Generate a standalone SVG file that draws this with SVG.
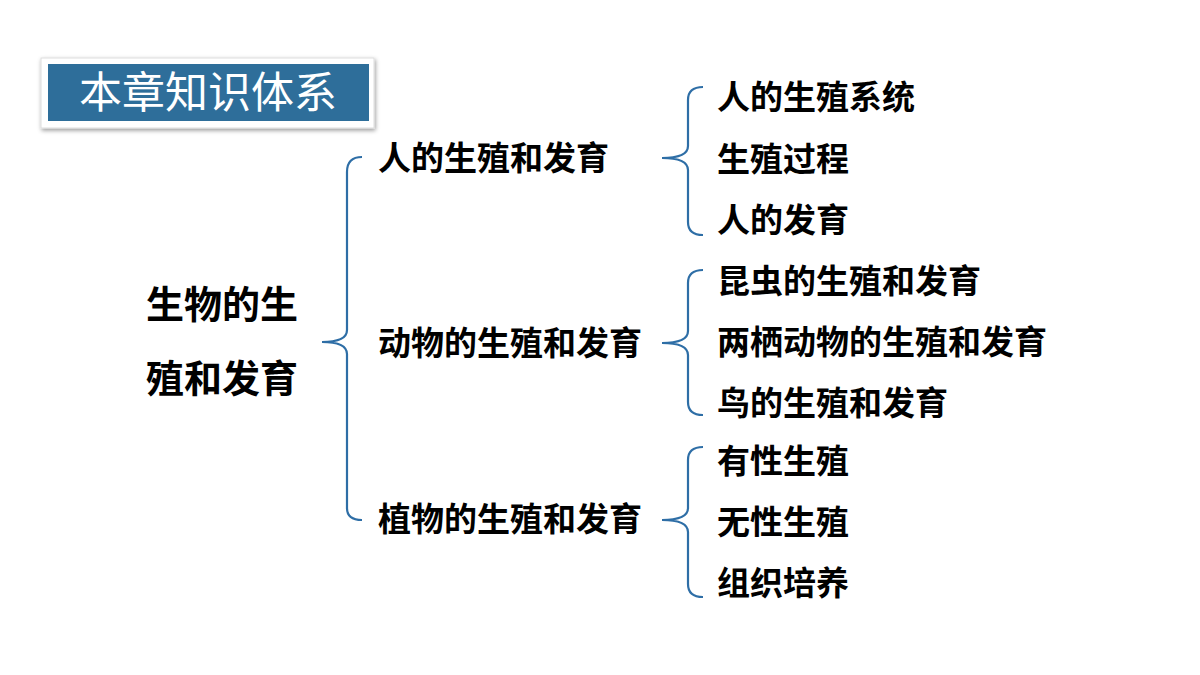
<svg xmlns="http://www.w3.org/2000/svg" width="1200" height="675" viewBox="0 0 1200 675">
<defs>
<style>
.t{font-family:"Noto Sans CJK SC","Liberation Sans",sans-serif;font-weight:bold;fill:#000;font-size:33px}
.b{fill:none;stroke:#2E6EA6;stroke-width:2.2}
</style>
<filter id="sh" x="-10%" y="-20%" width="120%" height="150%"><feDropShadow dx="1" dy="2" stdDeviation="2" flood-opacity="0.4"/></filter>
</defs>
<rect width="1200" height="675" fill="#fff"/>
<g id="title">
<rect x="41" y="58" width="333" height="70" fill="#fff" stroke="#ddd" filter="url(#sh)"/>
<rect x="48" y="64" width="321" height="57" fill="#2E6E9A"/>
<text x="208" y="108" text-anchor="middle" style="font-family:'Noto Sans CJK SC',sans-serif;font-size:43px;fill:#fff">本章知识体系</text>
</g>
<g id="connectors">
<path class="b" d="M362,157 Q347,157 347,172 L347,330 Q347,342 322,342 Q347,342 347,354 L347,508 Q347,520 362,520"/>
<path class="b" d="M703,87 Q688,87 688,100 L688,146 Q688,158 662,158 Q688,158 688,170 L688,222 Q688,235 703,235"/>
<path class="b" d="M703,270 Q688,270 688,283 L688,331 Q688,343 662,343 Q688,343 688,355 L688,402 Q688,415 703,415"/>
<path class="b" d="M703,447 Q688,447 688,460 L688,508 Q688,520 662,520 Q688,520 688,532 L688,584 Q688,597 703,597"/>
</g>
<g id="root"><text class="t" style="font-size:38px" x="146" y="318">生物的生</text><text class="t" style="font-size:38px" x="146" y="392">殖和发育</text></g>
<g id="n1"><text class="t" x="378" y="170">人的生殖和发育</text></g>
<g id="n2"><text class="t" x="378" y="355">动物的生殖和发育</text></g>
<g id="n3"><text class="t" x="378" y="531">植物的生殖和发育</text></g>
<g id="n1a"><text class="t" x="717" y="109">人的生殖系统</text></g>
<g id="n1b"><text class="t" x="717" y="171">生殖过程</text></g>
<g id="n1c"><text class="t" x="717" y="232">人的发育</text></g>
<g id="n2a"><text class="t" x="717" y="293">昆虫的生殖和发育</text></g>
<g id="n2b"><text class="t" x="717" y="354">两栖动物的生殖和发育</text></g>
<g id="n2c"><text class="t" x="717" y="415">鸟的生殖和发育</text></g>
<g id="n3a"><text class="t" x="717" y="473">有性生殖</text></g>
<g id="n3b"><text class="t" x="717" y="534">无性生殖</text></g>
<g id="n3c"><text class="t" x="717" y="595">组织培养</text></g>
</svg>
